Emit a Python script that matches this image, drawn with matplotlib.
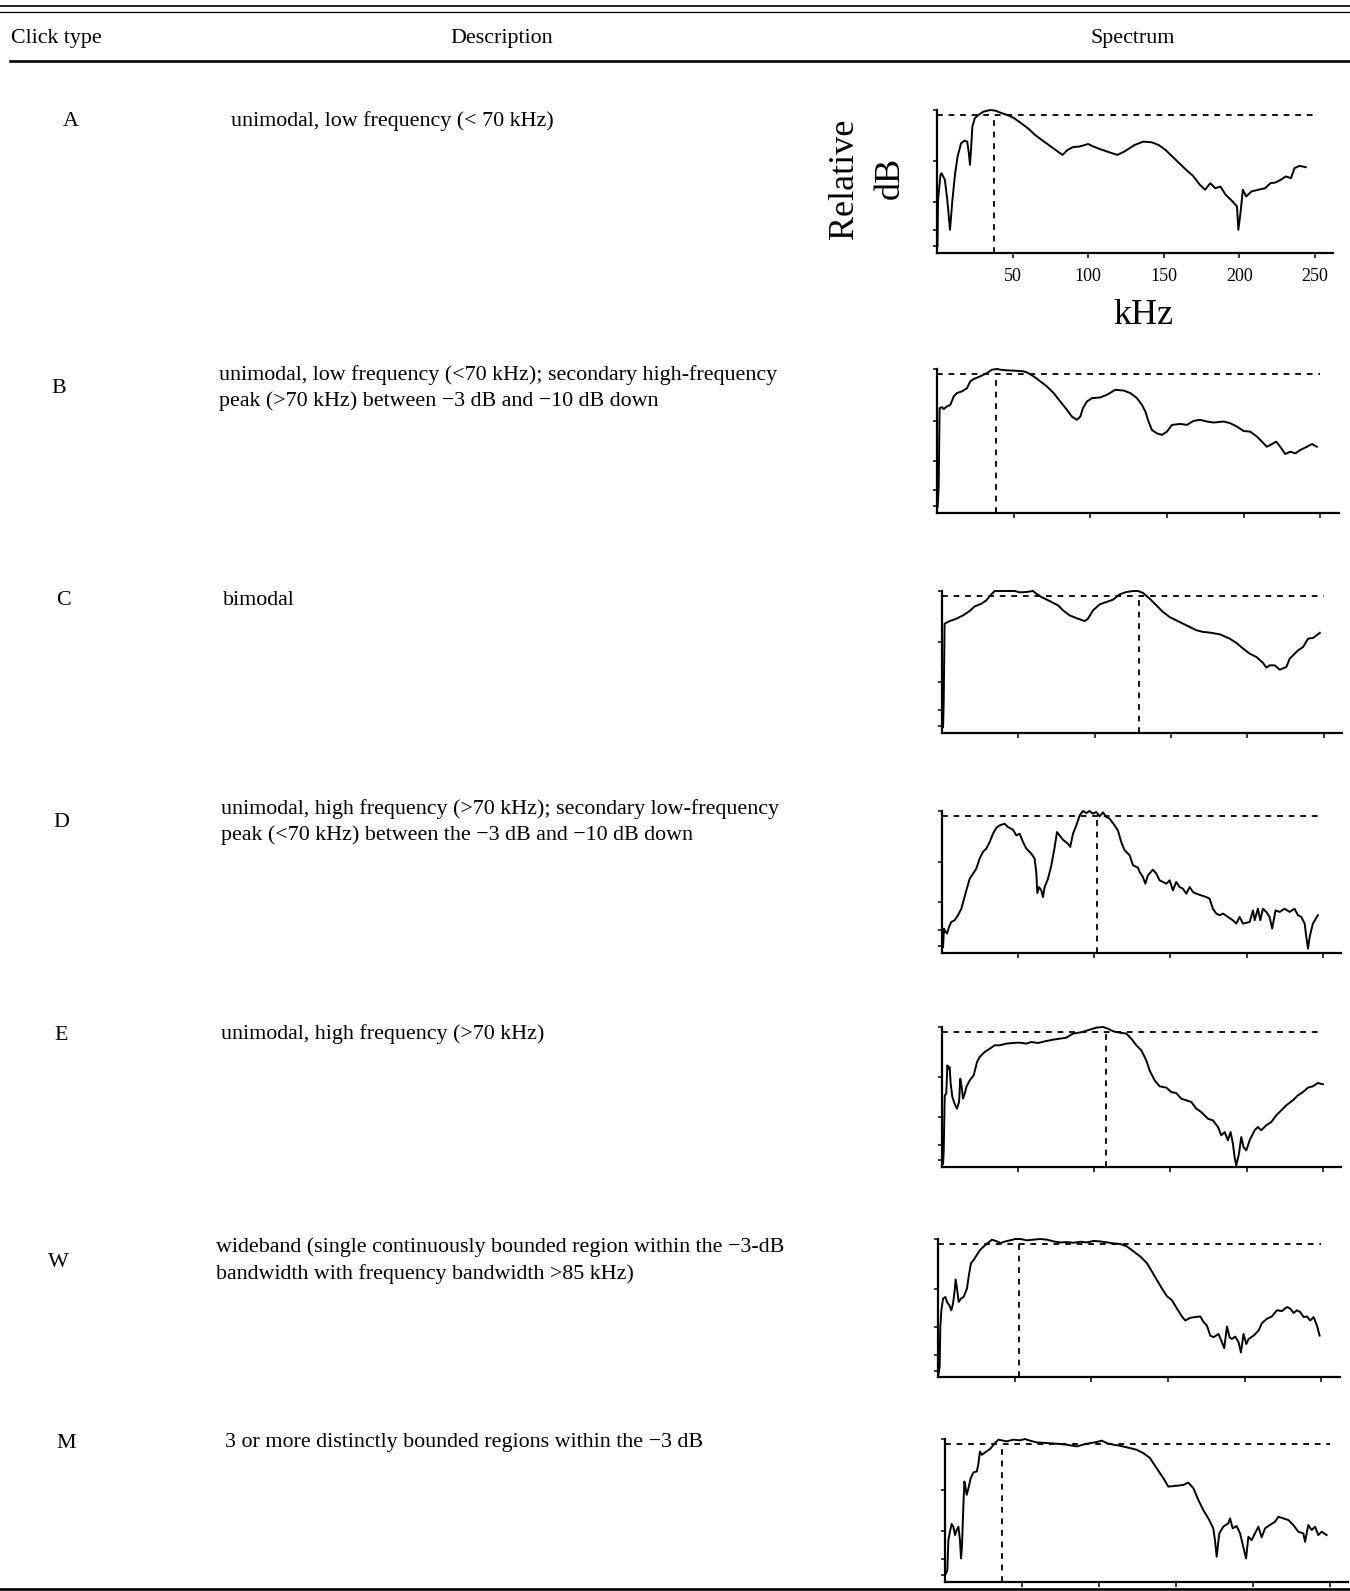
import matplotlib.pyplot as plt

plt.rcParams["font.family"] = ["Liberation Serif", "DejaVu Serif"]

W_PX, H_PX = 1350, 1591

# ---- table content ----
click_types = ["A", "B", "C", "D", "E", "W", "M"]
descriptions = [
    ["unimodal, low frequency (< 70 kHz)"],
    ["unimodal, low frequency (<70 kHz); secondary high-frequency",
     "peak (>70 kHz) between \u22123 dB and \u221210 dB down"],
    ["bimodal"],
    ["unimodal, high frequency (>70 kHz); secondary low-frequency",
     "peak (<70 kHz) between the \u22123 dB and \u221210 dB down"],
    ["unimodal, high frequency (>70 kHz)"],
    ["wideband (single continuously bounded region within the \u22123-dB",
     "bandwidth with frequency bandwidth >85 kHz)"],
    ["3 or more distinctly bounded regions within the \u22123 dB"],
]

# ---- spectra (kHz, relative dB) ----
freq_A = [0.3, 0.7, 2.3, 3.0, 5.2, 6.8, 8.6, 10.2, 12.0, 13.6, 15.9, 18.2, 20.0, 21.1, 21.8,
          22.5, 23.4, 25.0, 27.3, 30.7, 35.2, 38.6, 42.0, 46.6, 51.1, 55.7, 60.2, 64.8, 69.3,
          73.9, 78.4, 83.0, 86.4, 89.8, 94.3, 100.0, 103.4, 108.0, 112.5, 119.3, 123.9, 130.7,
          136.4, 142.0, 146.6, 151.1, 155.7, 160.2, 164.8, 169.3, 173.9, 177.3, 180.7, 184.1,
          187.5, 190.9, 195.5, 198.4, 199.3, 200.7, 202.3, 204.5, 208.0, 212.5, 217.0, 220.5,
          223.9, 227.3, 230.7, 234.1, 236.4, 239.8, 243.9]
db_A = [-81, -53.4, -38.5, -37.6, -41.5, -53.4, -71.2, -53.4, -37.6, -27.7, -19.8, -18.2, -18.8,
        -25.7, -32.6, -23.7, -9.9, -4.9, -3.0, -1.0, 0, -0.4, -1.6, -3.0, -4.9, -7.9, -10.9,
        -14.8, -17.8, -20.8, -23.7, -26.7, -23.7, -22.1, -21.7, -20.2, -21.7, -23.3, -24.7,
        -26.7, -24.7, -20.8, -18.8, -19.2, -20.8, -23.7, -27.7, -31.6, -35.6, -39.1, -44.5,
        -47.4, -43.5, -46.5, -45.5, -50.4, -54.4, -57.3, -71.2, -61.3, -47.4, -51.4, -48.4,
        -47.4, -46.5, -43.5, -43.1, -41.5, -39.5, -40.5, -34.6, -33.2, -34.0]

freq_B = [0.4, 1.1, 1.7, 3.3, 4.3, 6.5, 8.7, 10.9, 13.0, 16.3, 19.6, 21.7, 23.9, 28.3, 32.6,
          35.9, 39.1, 41.3, 45.7, 51.1, 56.5, 58.7, 63.0, 67.4, 71.7, 76.1, 80.4, 84.8, 88.0,
          91.3, 93.5, 95.2, 97.8, 101.1, 106.5, 110.9, 116.3, 121.7, 126.1, 130.4, 133.7,
          135.9, 138.0, 140.2, 143.5, 146.7, 150.0, 153.3, 158.7, 163.0, 167.4, 171.7, 176.1,
          180.4, 187.0, 191.3, 195.7, 200.0, 204.3, 208.7, 212.0, 215.2, 218.5, 221.3, 223.9,
          227.2, 230.4, 233.7, 237.0, 241.3, 244.6, 247.8]
db_B = [-81.4, -69.6, -23.1, -22.5, -23.7, -22.1, -21.2, -16.2, -14.2, -13.2, -11.3, -7.3, -5.9,
        -4.3, -2.4, -0.4, 0, -0.4, -0.8, -1.0, -1.4, -2.0, -4.3, -7.3, -10.3, -14.2, -19.2,
        -24.1, -28.1, -30.0, -28.1, -23.1, -19.2, -17.2, -16.8, -15.2, -12.3, -12.7, -14.2,
        -17.2, -21.2, -25.1, -31.0, -36.0, -38.0, -38.9, -37.0, -33.0, -32.4, -33.0, -30.6,
        -30.0, -31.0, -31.6, -31.0, -32.0, -34.0, -36.6, -37.0, -39.9, -42.9, -45.9, -44.3,
        -42.9, -45.9, -50.2, -48.8, -49.8, -47.8, -45.9, -44.3, -45.9]

freq_C = [0.7, 1.1, 1.7, 5.0, 9.4, 13.8, 18.1, 21.4, 25.8, 29.0, 32.3, 34.5, 37.8, 42.1, 47.6,
          50.9, 55.2, 59.6, 61.8, 65.1, 70.5, 76.0, 79.3, 83.6, 89.1, 93.4, 95.6, 98.9, 103.3,
          107.6, 112.0, 116.4, 120.7, 125.1, 128.4, 131.7, 136.0, 140.4, 144.8, 149.1, 155.7,
          162.2, 166.6, 171.0, 175.3, 181.9, 188.4, 192.8, 197.2, 201.5, 205.9, 210.3, 212.4,
          214.6, 217.9, 221.2, 225.5, 227.7, 229.9, 233.2, 236.5, 239.7, 243.0, 247.4]
db_C = [-81.4, -67.4, -19.6, -18.0, -16.6, -14.6, -12.0, -9.2, -7.6, -5.6, -2.0, 0, 0, 0, 0,
        -0.8, -0.6, 0, -1.6, -3.6, -6.0, -8.6, -11.6, -14.6, -16.6, -18.0, -16.6, -11.6, -8.0,
        -6.6, -5.2, -2.0, -0.6, 0, 0, -1.2, -4.6, -8.6, -12.6, -15.6, -18.6, -21.5, -23.5,
        -24.5, -24.9, -25.9, -28.5, -31.1, -34.5, -37.5, -39.5, -43.1, -45.9, -44.5, -44.5,
        -47.1, -45.5, -40.5, -38.5, -35.5, -33.5, -28.5, -28.1, -25.1]

freq_D = [0.7, 1.3, 2.4, 3.3, 4.6, 6.1, 8.3, 10.5, 12.7, 14.2, 16.0, 18.2, 20.4, 22.5, 24.7,
          26.9, 29.1, 31.3, 33.5, 35.7, 37.9, 41.1, 43.3, 46.6, 48.8, 51.0, 53.2, 55.4, 58.6,
          60.8, 61.9, 62.6, 63.7, 65.2, 66.3, 67.4, 69.6, 71.8, 74.0, 75.5, 77.2, 79.4, 82.7,
          84.2, 86.0, 88.2, 90.4, 92.6, 94.7, 96.9, 99.1, 101.3, 103.5, 105.7, 107.9, 110.1,
          113.3, 115.5, 117.7, 119.9, 123.2, 125.4, 128.7, 129.8, 131.9, 133.5, 135.2, 138.5,
          140.7, 142.9, 145.1, 147.3, 149.5, 151.6, 153.8, 156.0, 158.2, 160.4, 162.6, 164.8,
          167.0, 170.2, 173.5, 175.7, 177.9, 180.1, 182.3, 184.5, 187.7, 191.0, 193.2, 195.4,
          197.6, 202.0, 204.2, 205.3, 207.4, 209.0, 210.7, 212.9, 215.1, 216.8, 219.0, 221.7,
          224.9, 228.2, 231.5, 233.7, 235.9, 238.1, 239.2, 240.3, 241.4, 243.5, 246.8]
db_D = [-81.4, -70.4, -72.4, -73.4, -69.4, -66.4, -65.4, -62.4, -58.5, -53.5, -47.5, -40.5,
        -37.5, -34.5, -28.5, -24.5, -22.5, -18.6, -13.6, -10.0, -8.6, -7.6, -9.6, -11.2, -14.6,
        -13.6, -18.6, -22.5, -25.5, -28.5, -36.5, -49.1, -45.5, -47.5, -51.5, -45.5, -40.5,
        -32.5, -21.5, -12.6, -14.6, -17.2, -19.6, -21.5, -13.6, -8.6, -2.6, 0, -1.2, 0, -1.6,
        -0.6, -3.2, -0.8, -3.6, -4.6, -8.6, -11.6, -18.6, -23.5, -26.5, -32.5, -33.9, -36.5,
        -39.5, -43.5, -38.5, -35.1, -37.5, -41.5, -42.5, -43.5, -41.5, -47.5, -42.5, -45.5,
        -46.5, -49.5, -45.5, -48.5, -49.5, -50.5, -51.5, -52.5, -58.5, -61.4, -62.4, -61.4,
        -63.4, -65.4, -67.4, -63.4, -67.4, -66.4, -59.5, -65.4, -58.5, -65.4, -58.5, -60.4,
        -63.4, -70.4, -59.5, -60.4, -58.5, -60.4, -58.5, -62.4, -63.4, -67.4, -75.4, -82.4,
        -75.4, -67.4, -62.4]

freq_E = [0.7, 1.1, 1.8, 2.8, 3.5, 4.4, 5.0, 5.7, 6.8, 8.3, 9.8, 11.2, 12.0, 12.9, 13.8, 14.9,
          16.0, 18.2, 20.8, 23.0, 24.7, 28.0, 31.3, 34.6, 37.9, 42.2, 46.6, 51.0, 55.4, 58.6,
          63.0, 68.5, 72.9, 77.2, 81.6, 86.0, 91.5, 95.8, 101.3, 105.7, 109.0, 112.3, 116.6,
          121.0, 124.3, 127.6, 130.9, 134.1, 136.3, 139.6, 142.9, 147.3, 150.5, 153.8, 157.1,
          160.4, 163.7, 167.0, 170.2, 174.6, 177.9, 181.2, 183.4, 185.6, 187.7, 189.5, 191.0,
          192.1, 193.2, 195.0, 196.5, 198.0, 199.8, 202.0, 205.3, 207.4, 209.6, 212.9, 216.2,
          219.5, 222.8, 226.0, 230.4, 233.7, 237.0, 240.3, 243.5, 246.8, 250.1]
db_E = [-83.0, -75.9, -41.5, -40.5, -23.3, -25.3, -24.3, -34.4, -42.5, -46.6, -49.6, -45.5,
        -31.4, -36.4, -43.5, -40.5, -36.4, -32.4, -29.3, -21.3, -18.2, -15.2, -13.2, -11.1,
        -11.1, -10.1, -9.7, -9.5, -10.1, -9.1, -9.7, -8.5, -7.7, -7.1, -6.5, -4.0, -3.2, -2.0,
        -0.4, 0, -1.0, -2.6, -3.4, -4.0, -7.1, -11.1, -14.2, -20.2, -26.3, -32.4, -36.0, -36.8,
        -39.5, -40.1, -43.5, -44.5, -45.5, -49.6, -51.6, -55.7, -56.7, -60.7, -65.8, -63.8,
        -68.8, -63.8, -70.8, -78.9, -84.0, -76.9, -66.8, -72.9, -74.9, -68.8, -62.7, -60.7,
        -62.7, -59.7, -57.7, -53.6, -50.6, -47.6, -44.5, -41.5, -39.5, -36.8, -36.0, -34.0,
        -34.8]

freq_W = [0.4, 1.1, 1.5, 2.2, 3.3, 4.8, 5.9, 7.4, 8.7, 9.8, 10.9, 11.5, 12.4, 13.5, 15.0, 16.7,
          18.9, 20.0, 21.5, 23.3, 25.4, 27.6, 29.8, 32.4, 35.2, 38.5, 40.7, 43.9, 47.2, 50.4,
          53.7, 58.0, 62.4, 66.7, 71.1, 75.4, 79.8, 84.1, 88.5, 92.8, 97.2, 101.5, 105.9, 110.2,
          114.6, 118.9, 123.3, 127.6, 132.0, 136.3, 139.6, 142.8, 146.1, 149.3, 152.6, 155.9,
          159.1, 161.3, 164.6, 167.8, 171.1, 173.3, 175.4, 177.6, 179.8, 183.0, 185.2, 186.7,
          188.5, 190.2, 191.7, 193.9, 196.1, 197.6, 199.3, 201.1, 202.6, 205.9, 209.1, 211.3,
          214.6, 217.8, 221.1, 224.3, 227.6, 229.8, 232.0, 234.1, 236.3, 238.5, 240.7, 242.8,
          245.0, 247.2, 248.9]
db_W = [-83.0, -78.2, -54.3, -43.9, -36.7, -35.7, -38.8, -40.8, -43.9, -39.8, -31.5, -24.9,
        -30.5, -38.8, -36.7, -35.7, -30.5, -23.2, -14.9, -12.9, -9.7, -6.6, -4.6, -2.5, -0.4,
        -1.5, -2.5, -1.5, -0.8, 0, 0, -0.8, -0.4, 0, -0.4, -1.5, -2.1, -1.9, -2.3, -1.7, -2.1,
        -1.2, -1.5, -2.1, -2.7, -3.1, -4.6, -7.7, -10.8, -14.9, -20.1, -25.3, -30.5, -35.2,
        -37.7, -42.9, -47.7, -50.2, -48.5, -48.1, -47.7, -51.2, -53.3, -59.5, -60.5, -58.5,
        -63.6, -67.2, -53.9, -60.5, -61.6, -60.1, -63.6, -69.9, -58.5, -64.7, -61.6, -59.5,
        -56.4, -51.8, -49.1, -47.7, -43.9, -44.4, -41.9, -42.9, -45.6, -43.9, -45.0, -48.1,
        -47.7, -50.2, -48.1, -53.3, -59.5]

freq_M = [0.6, 1.5, 2.2, 3.2, 4.3, 5.4, 6.5, 7.6, 8.7, 9.7, 10.4, 11.0, 11.9, 12.6, 13.6, 14.1,
          15.2, 16.7, 18.4, 20.6, 21.6, 22.7, 23.8, 26.0, 29.2, 32.5, 34.6, 36.8, 40.0, 44.4,
          48.7, 51.9, 55.2, 59.5, 66.0, 72.5, 79.0, 85.5, 92.0, 98.5, 101.7, 105.0, 109.3,
          113.6, 120.1, 124.5, 128.8, 133.1, 137.4, 141.8, 145.0, 149.4, 154.8, 158.0, 161.3,
          164.5, 167.7, 171.0, 174.2, 175.3, 176.4, 178.1, 180.7, 184.0, 185.1, 186.8, 189.4,
          191.6, 193.7, 195.5, 197.0, 199.1, 201.3, 203.5, 205.6, 207.8, 211.0, 214.3, 216.5,
          219.7, 223.0, 226.2, 229.4, 232.7, 233.8, 235.9, 238.1, 240.3, 242.4, 244.6, 247.8]
db_M = [-80.0, -78.0, -60.1, -55.1, -50.5, -52.1, -57.1, -54.1, -52.1, -60.1, -71.0, -64.1,
        -40.2, -25.3, -30.2, -33.2, -29.3, -23.3, -19.9, -19.3, -15.3, -7.4, -9.4, -8.0, -6.0,
        -2.4, -0.4, -0.8, -1.4, -0.4, -0.8, 0, -1.0, -2.0, -2.4, -2.8, -3.4, -4.4, -2.8, -1.8,
        -1.0, -2.4, -3.4, -4.0, -5.4, -6.4, -8.4, -11.3, -17.3, -23.3, -28.3, -27.9, -27.3,
        -25.9, -29.3, -36.2, -42.2, -47.2, -53.1, -60.1, -70.0, -56.1, -52.1, -50.1, -47.2,
        -53.1, -51.7, -56.1, -64.1, -71.0, -58.1, -60.1, -56.1, -52.1, -58.5, -53.1, -51.1,
        -49.2, -46.2, -47.2, -48.2, -51.1, -55.1, -56.1, -61.1, -51.1, -54.1, -52.1, -57.1,
        -55.1, -57.1]

spectra_freq = [freq_A, freq_B, freq_C, freq_D, freq_E, freq_W, freq_M]
spectra_db = [db_A, db_B, db_C, db_D, db_E, db_W, db_M]
peak_khz = [38.0, 38.7, 128.7, 101.8, 107.9, 52.6, 36.8]
bandwidth_db = -3
x_ticks = [50, 100, 150, 200, 250]

# ---- layout in pixels of the page ----
row_letter = [(71, 126), (59, 393), (63, 605), (61, 827), (61, 1040), (58, 1267), (66, 1448)]
row_desc_x = [231, 219, 223, 221, 221, 216, 225]
row_desc_y = [[126], [380, 406], [605], [814, 840], [1039], [1252, 1279], [1447]]
# panel: left, top, bottom (px), px per kHz
panel_px = [(937, 110, 253, 1.512), (937, 369, 513, 1.533), (942, 591, 733, 1.527),
            (942, 811, 953, 1.523), (942, 1027, 1167, 1.523), (938, 1239, 1377, 1.533),
            (945, 1439, 1582, 1.540)]
Y_MIN = -85
y_ticks = [0, -30.5, -54.5, -71.5, -81]
X_MAX = 262

fig = plt.figure(figsize=(W_PX / 100, H_PX / 100), dpi=100)

# page overlay in pixel coordinates
page = fig.add_axes([0, 0, 1, 1])
page.set_xlim(0, W_PX)
page.set_ylim(H_PX, 0)
page.axis("off")

page.plot([0, W_PX], [5.7, 5.7], color="black", lw=1.2)
page.plot([0, W_PX], [12.3, 12.3], color="black", lw=0.9)
page.plot([10, W_PX], [60.7, 60.7], color="black", lw=1.9)
page.plot([0, W_PX], [1589, 1589], color="black", lw=1.9)

text_fs = 15.8
page.text(11, 43.5, "Click type", fontsize=text_fs, va="baseline", ha="left")
page.text(502, 43.5, "Description", fontsize=text_fs, va="baseline", ha="center")
page.text(1133, 43.5, "Spectrum", fontsize=text_fs, va="baseline", ha="center")

for i, label in enumerate(click_types):
    lx, ly = row_letter[i]
    page.text(lx, ly, label, fontsize=text_fs, va="baseline", ha="center")
    for line, y in zip(descriptions[i], row_desc_y[i]):
        page.text(row_desc_x[i], y, line, fontsize=text_fs, va="baseline", ha="left")

# spectra panels
for i in range(len(click_types)):
    left, top, bottom, pxk = panel_px[i]
    width = X_MAX * pxk
    ax = fig.add_axes([left / W_PX, 1 - bottom / H_PX, width / W_PX, (bottom - top) / H_PX])
    ax.plot(spectra_freq[i], spectra_db[i], color="black", lw=1.4, clip_on=False)
    ax.plot([0, 250], [bandwidth_db, bandwidth_db], color="black", lw=1.3,
            linestyle=(0, (3.2, 3.2)))
    ax.plot([peak_khz[i], peak_khz[i]], [Y_MIN, bandwidth_db], color="black", lw=1.3,
            linestyle=(0, (3.2, 3.2)))
    ax.set_xlim(0, X_MAX)
    ax.set_ylim(Y_MIN, 0)
    ax.set_yticks(y_ticks)
    ax.set_yticklabels([])
    ax.set_xticks(x_ticks)
    for side in ["top", "right"]:
        ax.spines[side].set_visible(False)
    for side in ["left", "bottom"]:
        ax.spines[side].set_linewidth(1.6)
    ax.tick_params(axis="y", direction="out", length=3, width=1.1)
    ax.tick_params(axis="x", direction="out", length=3.6, width=1.1, pad=7,
                   labelsize=13)
    ax.patch.set_alpha(0)
    if i == 0:
        ax.set_xticklabels([str(t) for t in x_ticks])
    else:
        ax.set_xticklabels([])

# axis titles drawn once, next to the first panel
page.text(845, 179, "Relative", fontsize=26, rotation=90, ha="center", va="center")
page.text(890, 178, "dB", fontsize=26, rotation=90, ha="center", va="center")
page.text(1143, 316, "kHz", fontsize=26, ha="center", va="center")

fig.savefig("out.png", dpi=100)
